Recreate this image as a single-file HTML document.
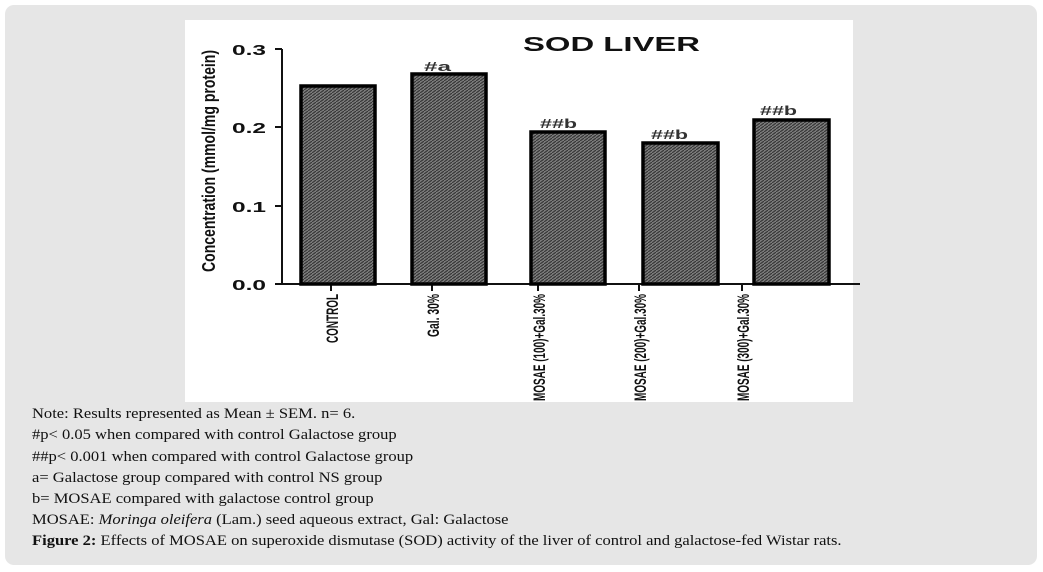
<!DOCTYPE html>
<html><head><style>
body{margin:0;width:1043px;height:572px;background:#fff;position:relative;overflow:hidden}
.box{position:absolute;left:5px;top:5px;width:1032px;height:560px;background:#e6e6e6;border-radius:9px}
svg{position:absolute;left:0;top:0}
.note{position:absolute;left:32px;font-family:"Liberation Serif",serif;font-size:14.5px;color:#111;white-space:nowrap;transform:scaleX(1.14);transform-origin:0 0}
</style></head><body>
<div class="box"></div>
<svg width="1043" height="572" xmlns="http://www.w3.org/2000/svg">
<defs>
<pattern id="h" width="4" height="3" patternUnits="userSpaceOnUse">
<rect width="4" height="3" fill="#7a7a7a"/>
<path d="M0 3 L4 0" stroke="#333" stroke-width="1.1"/>
</pattern>
</defs>
<rect x="185" y="20" width="668" height="382" fill="#fff"/>
<g font-family="Liberation Sans, sans-serif">
<text x="523" y="51" font-size="20" font-weight="bold" fill="#111" textLength="177" lengthAdjust="spacingAndGlyphs">SOD LIVER</text>
<g font-size="15" font-weight="bold" fill="#111">
<text x="232" y="55" textLength="34" lengthAdjust="spacingAndGlyphs">0.3</text>
<text x="232" y="133" textLength="34" lengthAdjust="spacingAndGlyphs">0.2</text>
<text x="232" y="212" textLength="34" lengthAdjust="spacingAndGlyphs">0.1</text>
<text x="232" y="290" textLength="34" lengthAdjust="spacingAndGlyphs">0.0</text>
</g>
<text transform="translate(215,161) rotate(-90)" text-anchor="middle" font-size="18" font-weight="bold" fill="#111" textLength="222" lengthAdjust="spacingAndGlyphs">Concentration (mmol/mg protein)</text>
<g stroke="#111" stroke-width="2" fill="none">
<path d="M282 49 V284 H860"/>
<path d="M275 49H282M275 127H282M275 206H282M275 284H282"/>
<path d="M331 284V291M432 284V291M538 284V291M639 284V291M742 284V291"/>
</g>
<g fill="url(#h)" stroke="#000" stroke-width="3.5">
<rect x="301" y="86" width="74" height="198"/>
<rect x="412" y="74" width="74" height="210"/>
<rect x="531" y="132" width="74" height="152"/>
<rect x="643" y="143" width="75" height="141"/>
<rect x="754" y="120" width="75" height="164"/>
</g>
<g font-size="13" font-weight="bold" fill="#333">
<text x="424" y="71" textLength="27" lengthAdjust="spacingAndGlyphs">#a</text>
<text x="540" y="128" textLength="37" lengthAdjust="spacingAndGlyphs">##b</text>
<text x="651" y="139" textLength="37" lengthAdjust="spacingAndGlyphs">##b</text>
<text x="760" y="115" textLength="37" lengthAdjust="spacingAndGlyphs">##b</text>
</g>
<g font-size="17" font-weight="bold" fill="#111" text-anchor="end">
<text transform="translate(338,294) rotate(-90)" textLength="49" lengthAdjust="spacingAndGlyphs">CONTROL</text>
<text transform="translate(439,294) rotate(-90)" textLength="43" lengthAdjust="spacingAndGlyphs">Gal. 30%</text>
<text transform="translate(545,294) rotate(-90)" textLength="107" lengthAdjust="spacingAndGlyphs">MOSAE (100)+Gal.30%</text>
<text transform="translate(646,294) rotate(-90)" textLength="107" lengthAdjust="spacingAndGlyphs">MOSAE (200)+Gal.30%</text>
<text transform="translate(749,294) rotate(-90)" textLength="107" lengthAdjust="spacingAndGlyphs">MOSAE (300)+Gal.30%</text>
</g>
</g>
</svg>
<div class="note" style="top:406px">Note: Results represented as Mean ± SEM. n= 6.</div>
<div class="note" style="top:427px">#p&lt; 0.05 when compared with control Galactose group</div>
<div class="note" style="top:449px">##p&lt; 0.001 when compared with control Galactose group</div>
<div class="note" style="top:470px">a= Galactose group compared with control NS group</div>
<div class="note" style="top:491px">b= MOSAE compared with galactose control group</div>
<div class="note" style="top:512px">MOSAE: <i>Moringa oleifera</i> (Lam.) seed aqueous extract, Gal: Galactose</div>
<div class="note" style="top:533px"><b>Figure 2:</b> Effects of MOSAE on superoxide dismutase (SOD) activity of the liver of control and galactose-fed Wistar rats.</div>
</body></html>
